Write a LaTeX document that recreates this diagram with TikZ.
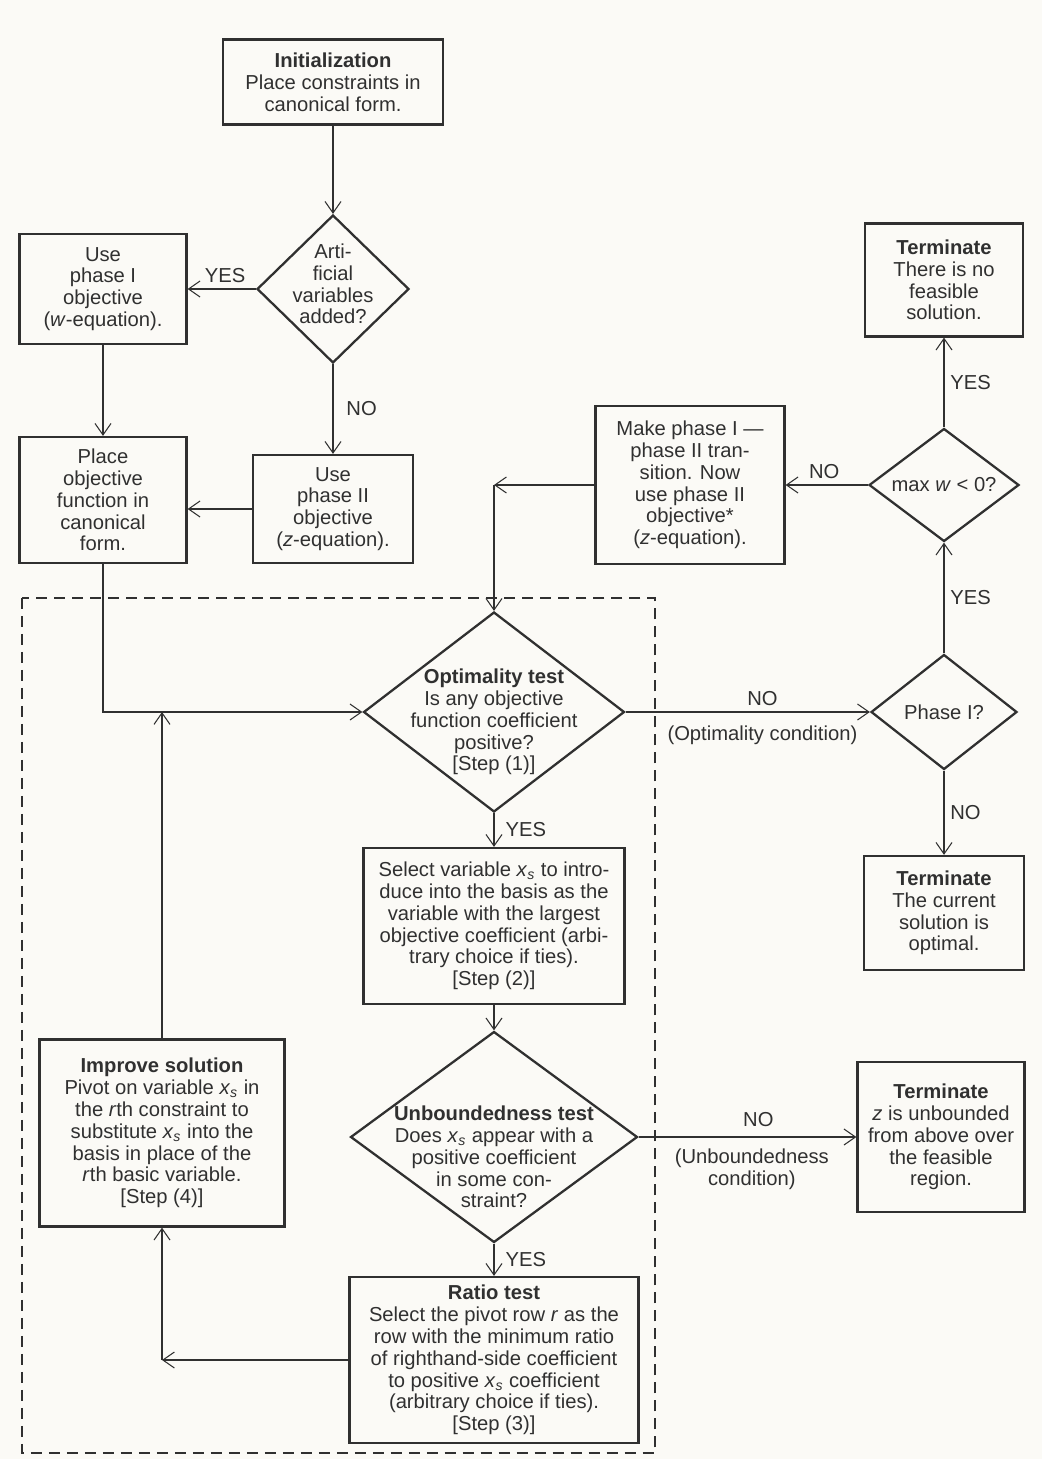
\documentclass[tikz,border=0pt]{standalone}
\usepackage{fontspec}
\setmainfont{Liberation Sans}
\usetikzlibrary{shapes.geometric,arrows.meta}
\definecolor{ink}{RGB}{48,48,48}
\definecolor{paper}{RGB}{251,250,246}
\newcommand{\xsub}{\textit{x}\textsubscript{\textit{s}}}
\begin{document}
\begin{tikzpicture}[x=0.02cm,y=-0.02cm,
  every node/.style={font=\fontsize{11.5}{12.4}\selectfont,text=ink},
  stepbox/.style={draw=ink,line width=1.3pt,align=center,inner sep=0pt},
  testbox/.style={diamond,draw=ink,line width=1.3pt,align=center,inner sep=-60pt},
  flow/.style={draw=ink,line width=0.6pt,-{Straight Barb[length=2.3mm,width=3.2mm]}}]
  \fill[paper] (0,0) rectangle (1042,1459);
  \useasboundingbox (0,0) rectangle (1042,1459);
  % the loop of the simplex steps
  \draw[ink,line width=0.6pt,dash pattern=on 2.2mm off 1.4mm] (22,598) rectangle (655,1453);
  % set-up column
  \node[stepbox,minimum width=4.4cm,minimum height=1.7cm] (init) at (333,82) {\textbf{Initialization}\\Place constraints in\\canonical form.};
  \node[testbox,minimum width=3.04cm,minimum height=2.96cm] (art) at (333,289) {};
  \node[align=center] (arttext) at (333,284) {Arti-\\ficial\\variables\\added?};
  \node[stepbox,minimum width=3.34cm,minimum height=2.2cm] (usew) at (103,289) {Use\\phase I\\objective\\(\textit{w}-equation).};
  \node[stepbox,minimum width=3.34cm,minimum height=2.52cm] (canon) at (103,500) {Place\\objective\\function in\\canonical\\form.};
  \node[stepbox,minimum width=3.2cm,minimum height=2.16cm] (usez) at (333,509) {Use\\phase II\\objective\\(\textit{z}-equation).};
  % phase I exit
  \node[stepbox,minimum width=3.78cm,minimum height=3.16cm] (trans) at (690,485) {Make phase I ---\\phase II tran-\\sition. Now\\use phase II\\objective*\\(\textit{z}-equation).};
  \node[testbox,minimum width=3cm,minimum height=2.26cm] (maxw) at (944,485) {max \textit{w} < 0?};
  \node[stepbox,minimum width=3.16cm,minimum height=2.26cm] (nofeas) at (944,280) {\textbf{Terminate}\\There is no\\feasible\\solution.};
  \node[testbox,minimum width=2.92cm,minimum height=2.3cm] (ph1) at (944,712) {Phase I?};
  \node[stepbox,minimum width=3.2cm,minimum height=2.28cm] (optimal) at (944,913) {\textbf{Terminate}\\The current\\solution is\\optimal.};
  % simplex steps
  \node[testbox,minimum width=5.22cm,minimum height=4cm] (opt) at (494,712) {};
  \node[align=center] (opttext) at (494,722) {\textbf{Optimality test}\\Is any objective\\function coefficient\\positive?\\{[Step (1)]}};
  \node[stepbox,minimum width=5.22cm,minimum height=3.12cm] (select) at (494,926) {Select variable \xsub\ to intro-\\duce into the basis as the\\variable with the largest\\objective coefficient (arbi-\\trary choice if ties).\\{[Step (2)]}};
  \node[testbox,minimum width=5.74cm,minimum height=4.22cm] (unb) at (494,1137) {};
  \node[align=center] (unbtext) at (494,1157) {\textbf{Unboundedness test}\\Does \xsub\ appear with a\\positive coefficient\\in some con-\\straint?};
  \node[stepbox,minimum width=3.34cm,minimum height=3cm] (unbdd) at (941,1137) {\textbf{Terminate}\\\textit{z} is unbounded\\from above over\\the feasible\\region.};
  \node[stepbox,minimum width=5.78cm,minimum height=3.32cm] (ratio) at (494,1360) {\textbf{Ratio test}\\Select the pivot row \textit{r} as the\\row with the minimum ratio\\of righthand-side coefficient\\to positive \xsub\ coefficient\\(arbitrary choice if ties).\\{[Step (3)]}};
  \node[stepbox,minimum width=4.9cm,minimum height=3.74cm] (pivot) at (162,1133) {\textbf{Improve solution}\\Pivot on variable \xsub\ in\\the \textit{r}th constraint to\\substitute \xsub\ into the\\basis in place of the\\\textit{r}th basic variable.\\{[Step (4)]}};
  % corners of the connectors
  \coordinate (joinin) at (pivot.north |- opt.west);
  \coordinate (turnup) at (opt.north |- trans.west);
  \coordinate (turnleft) at (pivot.south |- ratio.west);
  \coordinate (canonin) at (usez.west -| canon.east);
  \draw[flow] (init.south) -- (art.north);
  \draw[flow] (art.west) -- node[above,pos=0.45]{YES} (usew.east);
  \draw[flow] (art.south) -- node[right,xshift=4pt]{NO} (usez.north);
  \draw[flow] (usez.west) -- (canonin);
  \draw[flow] (usew.south) -- (canon.north);
  \draw[flow] (canon.south) |- (opt.west);
  \draw[flow] (pivot.north) -- (joinin);
  \draw[flow] (opt.east) -- node[above,pos=0.56]{NO} node[below,pos=0.56,yshift=-4pt]{(Optimality condition)} (ph1.west);
  \draw[flow] (ph1.north) -- node[right]{YES} (maxw.south);
  \draw[flow] (maxw.north) -- node[right]{YES} (nofeas.south);
  \draw[flow] (maxw.west) -- node[above,pos=0.53]{NO} (trans.east);
  \draw[flow] (trans.west) -- (turnup);
  \draw[flow] (turnup) -- (opt.north);
  \draw[flow] (ph1.south) -- node[right]{NO} (optimal.north);
  \draw[flow] (opt.south) -- node[right,xshift=3pt]{YES} (select.north);
  \draw[flow] (select.south) -- (unb.north);
  \draw[flow] (unb.east) -- node[above,pos=0.55,yshift=2pt]{NO} node[below,pos=0.52,align=center,yshift=-3pt]{(Unboundedness\\condition)} (unbdd.west);
  \draw[flow] (unb.south) -- node[right,xshift=3pt]{YES} (ratio.north);
  \draw[flow] (ratio.west) -- (turnleft);
  \draw[flow] (turnleft) -- (pivot.south);
\end{tikzpicture}
\end{document}
